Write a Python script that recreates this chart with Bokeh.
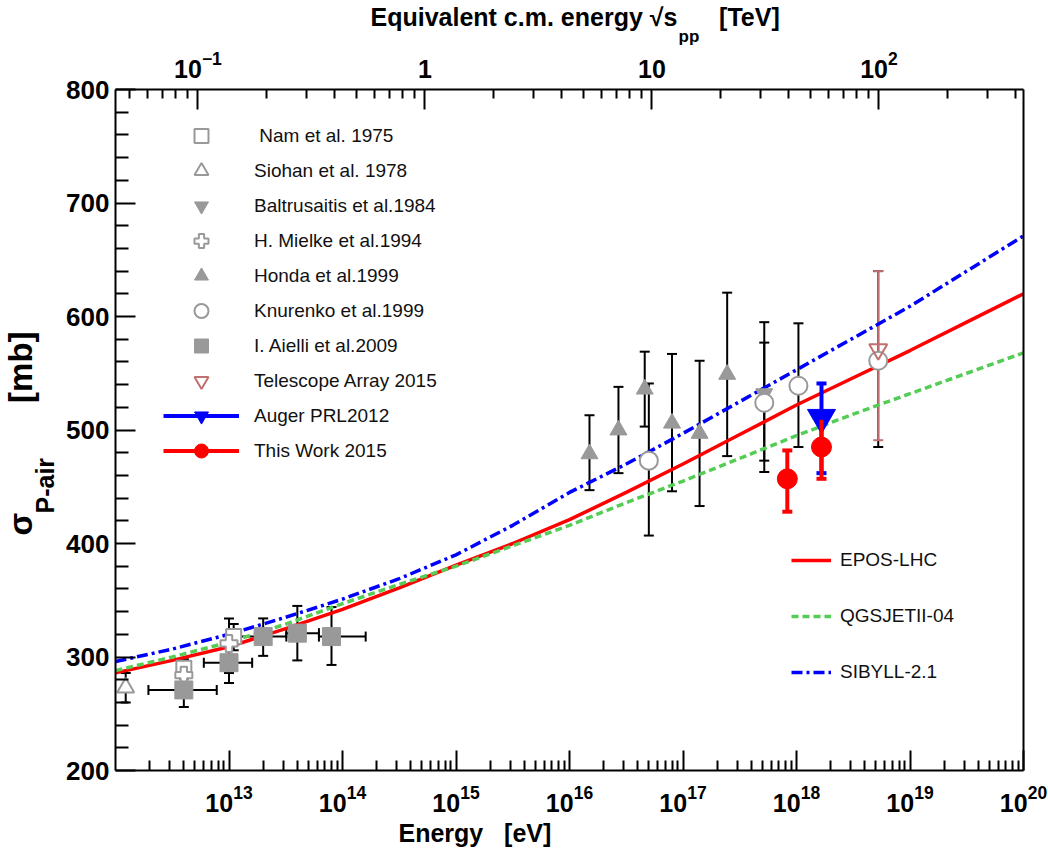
import math
from bokeh.plotting import figure
from bokeh.models import (LogAxis, LinearAxis, Range1d, FixedTicker, Whisker, TeeHead,
                          Legend, LegendItem, Title, ColumnDataSource, LogScale)
from bokeh.embed import file_html
from bokeh.resources import INLINE

# ---------------- data ----------------
model_logE = [12.0, 12.5, 13.0, 13.5, 14.0, 14.5, 15.0, 15.5, 16.0, 16.5,
              17.0, 17.5, 18.0, 18.5, 19.0, 19.5, 20.0]
epos_lhc   = [286, 297, 309, 325, 342, 361, 381, 400, 421, 445,
              470, 496, 522, 546, 570, 595, 620]
qgsjet_04  = [288, 300, 313, 329, 347, 364, 380, 398, 416, 436,
              455, 475, 495, 514, 532, 550, 568]
sibyll_21  = [296, 307, 320, 335, 351, 369, 390, 416, 445, 470,
              497, 525, 553, 581, 609, 640, 671]

nam_E   = [4.0e12, 1.1e13]
nam_sig = [290, 318]
nam_lo  = [281, 306]
nam_hi  = [298, 329]

siohan_E   = [1.23e12]
siohan_sig = [273]
siohan_lo  = [260]
siohan_hi  = [286]

baltr_E   = [5.2e17]
baltr_sig = [532]
baltr_lo  = [473]
baltr_hi  = [577]

mielke_E   = [4.0e12, 1.0e13]
mielke_sig = [284, 312]
mielke_lo  = [275, 286]
mielke_hi  = [297, 334]

honda_E   = [1.5e16, 2.7e16, 4.6e16, 8.0e16, 1.4e17, 2.45e17]
honda_sig = [479, 500, 536, 506, 497, 549]
honda_lo  = [447, 462, 503, 446, 433, 477]
honda_hi  = [513, 538, 569, 567, 561, 621]

knur_E   = [5.0e16, 5.2e17, 1.04e18, 5.25e18]
knur_sig = [473, 524, 539, 561]
knur_lo  = [407, 463, 485, 485]
knur_hi  = [541, 595, 594, 640]

aielli_E    = [4.0e12, 1.0e13, 2.0e13, 4.0e13, 8.0e13]
aielli_sig  = [271, 295, 318, 321, 318]
aielli_lo   = [256, 277, 301, 297, 293]
aielli_hi   = [286, 313, 334, 345, 344]
aielli_Elo  = [1.95e12, 6.0e12, 1.17e13, 3.2e13, 6.2e13]
aielli_Ehi  = [7.8e12, 1.6e13, 3.2e13, 6.2e13, 1.6e14]

ta_E   = [5.25e18]
ta_sig = [571]
ta_lo  = [491]
ta_hi  = [640]

auger_E   = [1.66e18]
auger_sig = [511]
auger_lo  = [462]
auger_hi  = [541]

work_E   = [8.3e17, 1.66e18]
work_sig = [457, 485]
work_lo  = [428, 457]
work_hi  = [482, 509]

x_major = [1e13, 1e14, 1e15, 1e16, 1e17, 1e18, 1e19, 1e20]
top_major = [0.1, 1, 10, 100]
top_labels = {1.0: "1", 10.0: "10"}
y_major = [200, 300, 400, 500, 600, 700, 800]

# ---------------- figure ----------------
W, H = 1048, 852
FL, FR, FT, FB = 115, 1023, 89, 770
E_MIN, E_MAX = 1e12, 1e20
Y_MIN, Y_MAX = 200, 800
M_P = 0.938e9  # eV
NB = "\u00a0"

p = figure(width=W, height=H, x_axis_type="log", x_range=(E_MIN, E_MAX),
           y_range=(Y_MIN, Y_MAX), output_backend="svg", toolbar_location=None,
           min_border_left=FL, min_border_right=W - FR, min_border_top=FT,
           min_border_bottom=H - FB)
p.outline_line_color = None
p.xgrid.visible = False
p.ygrid.visible = False
p.background_fill_color = "white"
p.border_fill_color = "white"

FONT = "Liberation Sans"

def style_axis(ax, maj_in, min_in, size):
    ax.axis_line_width = 2
    ax.axis_line_color = "black"
    ax.major_tick_in = maj_in
    ax.major_tick_out = 0
    ax.minor_tick_in = min_in
    ax.minor_tick_out = 0
    ax.major_tick_line_width = 2
    ax.minor_tick_line_width = 2
    ax.major_tick_line_color = "black"
    ax.minor_tick_line_color = "black"
    ax.major_label_text_font = FONT
    ax.major_label_text_font_style = "bold"
    ax.major_label_text_font_size = size
    ax.major_label_text_color = "black"

# bottom axis
bx = p.below[0]
x_minor = [k * 10 ** n for n in range(12, 20) for k in range(2, 10)]
bx.ticker = FixedTicker(ticks=x_major, minor_ticks=x_minor)
style_axis(bx, 20, 10, "25px")
bx.major_label_standoff = 14

# left axis
ly = p.left[0]
y_minor = [v for v in range(200, 801, 20) if v % 100 != 0]
ly.ticker = FixedTicker(ticks=y_major, minor_ticks=y_minor)
style_axis(ly, 20, 13, "26px")
ly.major_label_standoff = 6

# top axis: equivalent sqrt(s_pp) in TeV
s_lo = math.sqrt(2 * M_P * E_MIN) / 1e12
s_hi = math.sqrt(2 * M_P * E_MAX) / 1e12
p.extra_x_ranges = {"top": Range1d(s_lo, s_hi)}
p.extra_x_scales = {"top": LogScale()}
top_minor = [k * 10 ** n for n in range(-2, 3) for k in range(2, 10)
             if s_lo <= k * 10 ** n <= s_hi]
tx = LogAxis(x_range_name="top", ticker=FixedTicker(ticks=top_major, minor_ticks=top_minor),
             major_label_overrides=top_labels)
style_axis(tx, 20, 9, "25px")
tx.major_label_standoff = 12
p.add_layout(tx, "above")

# right border
ry = LinearAxis(ticker=FixedTicker(ticks=[]), major_label_text_font_size="0px",
                major_tick_line_color=None, minor_tick_line_color=None,
                axis_line_width=2, axis_line_color="black")
p.add_layout(ry, "right")

# ---------------- model curves ----------------
E_model = [10 ** v for v in model_logE]
r_epos = p.line(E_model, epos_lhc, line_color="#ff0000", line_width=3.5)
r_qgs = p.line(E_model, qgsjet_04, line_color="#55cc55", line_width=3.5, line_dash="7 4")
r_sib = p.line(E_model, sibyll_21, line_color="#0000ff", line_width=3.5, line_dash="11 4 3 4")

# ---------------- error bars ----------------
def vbars(E, lo, hi, color="black", width=2, head=10, line=True):
    src = ColumnDataSource(dict(x=E, lo=lo, hi=hi))
    w = Whisker(source=src, base="x", lower="lo", upper="hi", dimension="height",
                line_color=color if line else None, line_width=width,
                upper_head=TeeHead(size=head, line_color=color, line_width=width),
                lower_head=TeeHead(size=head, line_color=color, line_width=width))
    p.add_layout(w)

def hbars(y, lo, hi, color="black", width=2, head=10):
    src = ColumnDataSource(dict(y=y, lo=lo, hi=hi))
    w = Whisker(source=src, base="y", lower="lo", upper="hi", dimension="width",
                line_color=color, line_width=width,
                upper_head=TeeHead(size=head, line_color=color, line_width=width),
                lower_head=TeeHead(size=head, line_color=color, line_width=width))
    p.add_layout(w)

vbars(siohan_E, siohan_lo, siohan_hi)
vbars(nam_E, nam_lo, nam_hi)
vbars(mielke_E, mielke_lo, mielke_hi)
vbars(aielli_E, aielli_lo, aielli_hi)
hbars(aielli_sig, aielli_Elo, aielli_Ehi)
vbars(honda_E, honda_lo, honda_hi)
vbars(knur_E, knur_lo, knur_hi)
vbars(baltr_E, baltr_lo, baltr_hi)
vbars(ta_E, ta_lo, ta_hi, color="#c07070")

GRAY = "#999999"
# ---------------- markers ----------------
r_nam = p.scatter(nam_E, nam_sig, marker="square", size=15, fill_color="white",
                  line_color=GRAY, line_width=2)
r_sio = p.scatter(siohan_E, siohan_sig, marker="triangle", size=17, fill_color="white",
                  line_color=GRAY, line_width=2)
r_mie = p.scatter(mielke_E, mielke_sig, marker="plus", size=17, fill_color="white",
                  line_color=GRAY, line_width=2)
r_aie = p.scatter(aielli_E, aielli_sig, marker="square", size=18, fill_color=GRAY,
                  line_color=GRAY, line_width=1)
r_hon = p.scatter(honda_E, honda_sig, marker="triangle", size=17, fill_color=GRAY,
                  line_color=GRAY, line_width=1)
r_bal = p.scatter(baltr_E, baltr_sig, marker="inverted_triangle", size=17, fill_color=GRAY,
                  line_color=GRAY, line_width=1)
r_knu = p.scatter(knur_E, knur_sig, marker="circle", size=18, fill_color="white",
                  line_color=GRAY, line_width=2)
r_ta = p.scatter(ta_E, ta_sig, marker="inverted_triangle", size=18, fill_color=None,
                 line_color="#c07070", line_width=2)

r_aug_bar = p.segment(x0=auger_E, y0=auger_lo, x1=auger_E, y1=auger_hi,
                      line_color="#0000ff", line_width=4)
vbars(auger_E, auger_lo, auger_hi, color="#0000ff", width=4, head=10, line=False)
r_aug = p.scatter(auger_E, auger_sig, marker="inverted_triangle", size=28,
                  fill_color="#0000ff", line_color="#0000ff")

r_work_bar = p.segment(x0=work_E, y0=work_lo, x1=work_E, y1=work_hi,
                       line_color="#ff0000", line_width=4)
vbars(work_E, work_lo, work_hi, color="#ff0000", width=4, head=10, line=False)
r_work = p.scatter(work_E, work_sig, marker="circle", size=20,
                   fill_color="#ff0000", line_color="#ff0000")

# ---------------- legends ----------------
leg1 = Legend(items=[
    LegendItem(label=" Nam et al. 1975", renderers=[r_nam]),
    LegendItem(label="Siohan et al. 1978", renderers=[r_sio]),
    LegendItem(label="Baltrusaitis et al.1984", renderers=[r_bal]),
    LegendItem(label="H. Mielke et al.1994", renderers=[r_mie]),
    LegendItem(label="Honda et al.1999", renderers=[r_hon]),
    LegendItem(label="Knurenko et al.1999", renderers=[r_knu]),
    LegendItem(label="I. Aielli et al.2009", renderers=[r_aie]),
    LegendItem(label="Telescope Array 2015", renderers=[r_ta]),
    LegendItem(label="Auger PRL2012", renderers=[r_aug_bar, r_aug]),
    LegendItem(label="This Work 2015", renderers=[r_work_bar, r_work]),
], location=(163 - FL, FB - 468), glyph_width=76, glyph_height=35, label_height=35,
   spacing=0, padding=0, margin=0, label_standoff=15,
   label_text_font=FONT, label_text_font_size="19px", label_text_color="#111111",
   background_fill_alpha=0, border_line_color=None)
p.add_layout(leg1)

leg2 = Legend(items=[
    LegendItem(label="EPOS-LHC", renderers=[r_epos]),
    LegendItem(label="QGSJETII-04", renderers=[r_qgs]),
    LegendItem(label="SIBYLL-2.1", renderers=[r_sib]),
], location=(791 - FL, FB - 687), glyph_width=40, glyph_height=30, label_height=30,
   spacing=26, padding=15, margin=0, label_standoff=9, label_width=165,
   label_text_font=FONT, label_text_font_size="19px", label_text_color="#111111",
   background_fill_color="white", background_fill_alpha=1, border_line_color=None)
p.add_layout(leg2)

# ---------------- axis titles (side-panel titles) ----------------
def title(text, side, offset, size, standoff, bold=True):
    t = Title(text=text, align="left", offset=offset, standoff=standoff,
              text_font=FONT, text_font_size=size,
              text_font_style="bold" if bold else "normal", text_color="black")
    p.add_layout(t, side)

title("Energy" + NB * 3 + "[eV]", "below", 398 - FL, "25px", 4)
title("pp", "above", 678 - FL, "17px", 4)
title("Equivalent c.m. energy \u221as" + NB * 6 + "[TeV]", "above", 370 - FL, "25px", -16)
title("P-air", "left", FB - 513, "25px", 10)
title("\u03c3" + NB * 12 + "[mb]", "left", FB - 535, "33px", -30)

open("out.html", "w").write(file_html(p, INLINE))
